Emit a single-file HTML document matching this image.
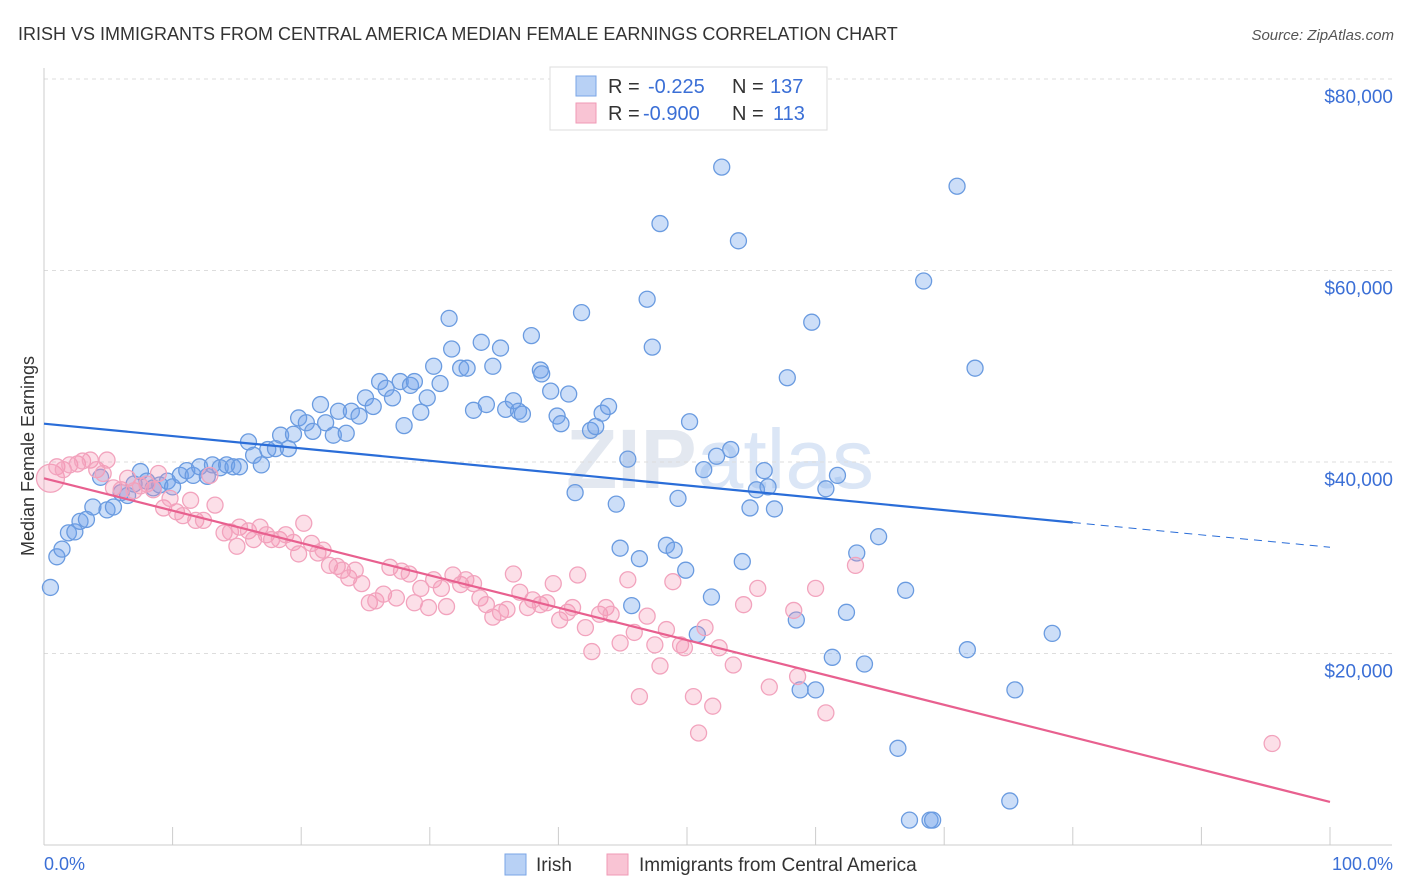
<!DOCTYPE html>
<html><head><meta charset="utf-8"><style>
body{margin:0;background:#fff;font-family:"Liberation Sans",sans-serif}
svg{display:block}
</style></head><body>
<svg id="c" width="1406" height="892" xmlns="http://www.w3.org/2000/svg">
<text x="18" y="40" font-size="18" fill="#333">IRISH VS IMMIGRANTS FROM CENTRAL AMERICA MEDIAN FEMALE EARNINGS CORRELATION CHART</text>
<text x="1394" y="40" font-size="15" fill="#555" font-style="italic" text-anchor="end">Source: ZipAtlas.com</text>
<text x="720" y="488" font-size="84" fill="#e3e8f0" text-anchor="middle" font-weight="bold">ZIP<tspan fill="#dbe6f6" font-weight="normal">atlas</tspan></text>
<g id="grid"></g><g id="pts"></g><g id="lines"></g>
<text transform="translate(34,456) rotate(-90)" font-size="18" fill="#333" text-anchor="middle">Median Female Earnings</text>
<text x="44" y="870" font-size="18" fill="#3b6fd6">0.0%</text>
<text x="1393" y="870" font-size="18" fill="#3b6fd6" text-anchor="end">100.0%</text>
<g>
<rect x="550" y="67" width="277" height="63" fill="#fff" stroke="#ddd"/>
<rect x="576" y="76" width="20" height="20" fill="#b8d1f5" stroke="#7aa5e6"/>
<rect x="576" y="103" width="20" height="20" fill="#f9c4d4" stroke="#f09ab6"/>
<text x="608" y="93" font-size="20" fill="#333">R = <tspan fill="#3b6fd6" x="648">-0.225</tspan><tspan x="732" fill="#333">N = </tspan><tspan fill="#3b6fd6" x="770">137</tspan></text>
<text x="608" y="120" font-size="20" fill="#333">R = <tspan fill="#3b6fd6" x="643">-0.900</tspan><tspan x="732" fill="#333">N = </tspan><tspan fill="#3b6fd6" x="773">113</tspan></text>
</g>
<g><rect x="505" y="854" width="21" height="21" fill="#b8d1f5" stroke="#7aa5e6"/><text x="536" y="871" font-size="19" fill="#333">Irish</text></g>
<g><rect x="607" y="854" width="21" height="21" fill="#f9c4d4" stroke="#f09ab6"/><text x="639" y="871" font-size="19" fill="#333">Immigrants from Central America</text></g>
</svg>
<script>
const yTicks=[20000,40000,60000,80000];
const yTickLabels=["$20,000","$40,000","$60,000","$80,000"];
const xTicks=[0,10,20,30,40,50,60,70,80,90,100];
const irishX=[0.5,1.0,1.4,1.9,2.4,2.8,3.3,3.8,4.4,4.9,5.4,6.0,6.5,7.0,7.5,8.0,8.5,9.0,9.6,10.0,10.6,11.1,11.6,12.1,12.7,13.1,13.7,14.2,14.7,15.2,15.9,16.3,16.9,17.4,18.0,18.4,19.0,19.4,19.8,20.4,20.9,21.5,21.9,22.5,22.9,23.5,23.9,24.5,25.0,25.6,26.1,26.6,27.1,27.7,28.0,28.5,28.8,29.3,29.8,30.3,30.8,31.5,31.7,32.4,32.9,33.4,34.0,34.4,34.9,35.5,35.9,36.5,36.9,37.2,37.9,38.6,38.7,39.4,39.9,40.2,40.8,41.3,41.8,42.5,42.9,43.4,43.9,44.5,44.8,45.4,45.7,46.3,46.9,47.3,47.9,48.4,49.0,49.3,49.9,50.2,50.8,51.3,51.9,52.3,52.7,53.4,54.0,54.3,54.9,55.4,56.0,56.3,56.8,57.8,58.5,58.8,59.7,60.0,60.8,61.3,61.7,62.4,63.2,63.8,64.9,66.4,67.0,67.3,68.4,68.9,69.1,71.0,71.8,72.4,75.1,75.5,78.4];
const irishY=[26.9,30.1,30.9,32.6,32.7,33.8,34.0,35.3,38.4,35.0,35.3,36.8,36.5,37.7,39.0,38.0,37.3,37.6,38.0,37.4,38.6,39.1,38.6,39.5,38.5,39.7,39.4,39.7,39.5,39.5,42.1,40.7,39.7,41.3,41.4,42.8,41.4,42.9,44.6,44.1,43.2,46.0,44.1,42.8,45.3,43.0,45.3,44.8,46.7,45.8,48.4,47.7,46.7,48.4,43.8,48.0,48.4,45.2,46.7,50.0,48.2,55.0,51.8,49.8,49.8,45.4,52.5,46.0,50.0,51.9,45.5,46.4,45.3,45.0,53.2,49.6,49.2,47.4,44.8,44.0,47.1,36.8,55.6,43.3,43.7,45.1,45.8,35.6,31.0,40.3,25.0,29.9,57.0,52.0,64.9,31.3,30.8,36.2,28.7,44.2,22.0,39.2,25.9,40.6,70.8,41.3,63.1,29.6,35.2,37.1,39.1,37.4,35.1,48.8,23.5,16.2,54.6,16.2,37.2,19.6,38.6,24.3,30.5,18.9,32.2,10.1,26.6,2.6,58.9,2.6,2.6,68.8,20.4,49.8,4.6,16.2,22.1];
const camX=[0.5,1.0,1.5,2.0,2.6,3.0,3.6,4.1,4.6,4.9,5.4,6.0,6.5,7.0,7.5,8.0,8.5,8.9,9.3,9.8,10.3,10.8,11.4,11.8,12.4,12.9,13.3,14.0,14.5,15.0,15.2,15.9,16.3,16.8,17.3,17.7,18.3,18.8,19.4,19.8,20.2,20.8,21.3,21.7,22.2,22.8,23.2,23.7,24.2,24.7,25.3,25.8,26.4,26.9,27.4,27.8,28.4,28.8,29.3,29.9,30.3,30.9,31.3,31.8,32.4,32.8,33.4,33.9,34.4,34.9,35.5,36.0,36.5,37.0,37.6,38.0,38.6,39.1,39.6,40.1,40.7,41.1,41.5,42.1,42.6,43.2,43.7,44.1,44.8,45.4,45.9,46.3,46.9,47.5,47.9,48.4,48.9,49.5,49.8,50.5,50.9,51.4,52.0,52.5,53.6,54.4,55.5,56.4,58.3,58.6,60.0,60.8,63.1,95.5];
const camY=[38.3,39.5,39.2,39.7,39.8,40.1,40.2,39.2,38.8,40.2,37.3,37.1,38.3,37.0,37.5,37.7,37.1,38.8,35.2,36.2,34.8,34.4,36.0,33.9,33.9,38.6,35.5,32.6,32.7,31.2,33.2,32.8,31.9,33.2,32.4,31.9,31.9,32.4,31.6,30.4,33.6,31.5,30.5,30.8,29.2,29.1,28.7,27.9,28.7,27.3,25.3,25.5,26.2,29.0,25.8,28.6,28.3,25.3,26.8,24.8,27.7,26.8,24.9,28.2,27.2,27.7,27.3,25.8,25.1,23.8,24.3,24.6,28.3,26.4,24.8,25.6,25.1,25.3,27.3,23.5,24.3,24.8,28.2,22.7,20.2,24.1,24.8,24.1,21.1,27.7,22.2,15.5,23.9,20.9,18.7,22.5,27.5,20.9,20.6,15.5,11.7,22.7,14.5,20.6,18.8,25.1,26.8,16.5,24.5,17.6,26.8,13.8,29.2,10.6];
const irishTrend=[44.0,31.1]; const irishSolidEnd=80;
const camTrend=[38.3,4.5];
const NS="http://www.w3.org/2000/svg";
const X=p=>44+p*12.86, Y=v=>845-v*191.5/20000;
function mk(t,a,p){const e=document.createElementNS(NS,t);for(const k in a)e.setAttribute(k,a[k]);p.appendChild(e);return e;}
const grid=document.getElementById('grid'),pts=document.getElementById('pts'),lines=document.getElementById('lines'),svg=document.getElementById('c');
yTicks.forEach((v,i)=>{
 const l=mk('line',{x1:44,x2:1392,y1:Y(v),y2:Y(v),stroke:'#ddd','stroke-dasharray':'4,4'},grid);
 
 
 const t=mk('text',{x:1393,y:Y(v)+24,'font-size':19,fill:'#3b6fd6','text-anchor':'end'},svg);
 t.textContent=yTickLabels[i];
 
 
});
const ax=mk('line',{x1:44,x2:1392,y1:845,y2:845,stroke:'#ccc'},grid);


const ay=mk('line',{x1:44,x2:44,y1:68,y2:845,stroke:'#ccc'},grid);


xTicks.forEach(p=>{
 const t=mk('line',{x1:X(p),x2:X(p),y1:827,y2:845,stroke:'#ccc'},grid);
 
 
});
irishX.forEach((x,i)=>{
 const c=mk('circle',{cx:X(x),cy:Y(irishY[i]*1000),r:8,fill:'rgba(110,160,235,0.35)',stroke:'#6a9be0','stroke-width':1.3},pts);
 
 
});
camX.forEach((x,i)=>{
 const c=mk('circle',{cx:X(x),cy:Y(camY[i]*1000),r:i==0?14:8,fill:'rgba(245,150,180,0.3)',stroke:'#f2a3bd','stroke-width':1.3},pts);
 
 
});
const iy=p=>irishTrend[0]+(irishTrend[1]-irishTrend[0])*p/100;
let l1=mk('line',{x1:X(0),y1:Y(iy(0)*1000),x2:X(irishSolidEnd),y2:Y(iy(irishSolidEnd)*1000),stroke:'#2a6dd8','stroke-width':2.2},lines);


let l2=mk('line',{x1:X(irishSolidEnd),y1:Y(iy(irishSolidEnd)*1000),x2:X(100),y2:Y(iy(100)*1000),stroke:'#2a6dd8','stroke-width':1,'stroke-dasharray':'8,6'},lines);


let l3=mk('line',{x1:X(0),y1:Y(camTrend[0]*1000),x2:X(100),y2:Y(camTrend[1]*1000),stroke:'#e8608f','stroke-width':2.2},lines);


</script>
</body></html>
